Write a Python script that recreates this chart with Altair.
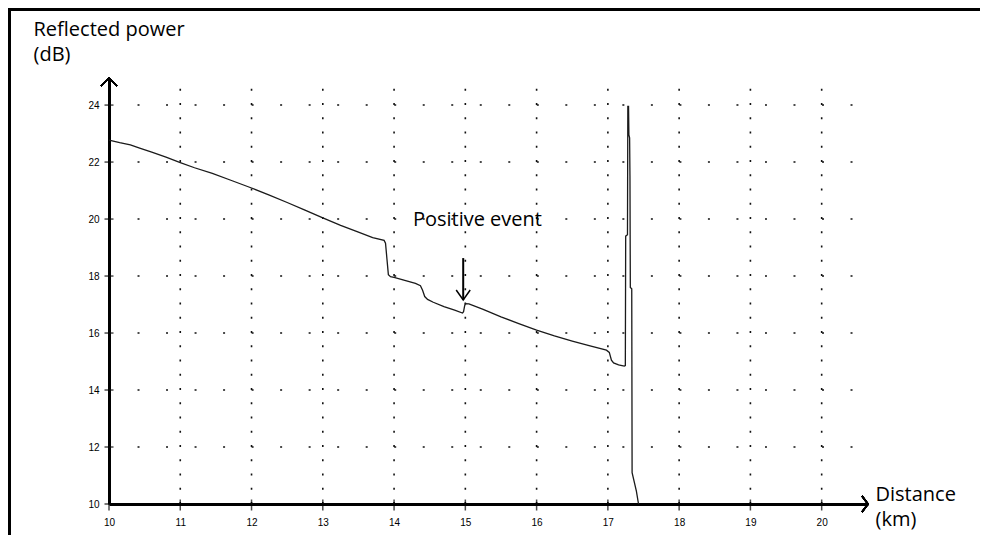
import altair as alt
import pandas as pd

# ---- data ----
dist_km = [10.00, 10.15, 10.30, 10.43, 10.60, 10.80, 11.00, 11.20, 11.45, 11.70,
           12.00, 12.25, 12.50, 12.75, 13.00, 13.25, 13.50, 13.70, 13.86, 13.88,
           13.90, 13.92, 13.95, 14.00, 14.15, 14.30, 14.37, 14.40, 14.43, 14.47,
           14.55, 14.70, 14.85, 14.96, 14.975, 14.99, 15.00, 15.05, 15.25, 15.50,
           15.75, 16.00, 16.25, 16.50, 16.75, 16.98, 17.02, 17.05, 17.08, 17.15,
           17.23, 17.245, 17.25, 17.275, 17.28, 17.29, 17.295, 17.305, 17.31, 17.315,
           17.335, 17.34, 17.40, 17.43]
power_db = [22.77, 22.68, 22.60, 22.49, 22.35, 22.17, 21.98, 21.80, 21.60, 21.37,
            21.09, 20.84, 20.58, 20.31, 20.04, 19.78, 19.54, 19.35, 19.25, 19.15,
            18.60, 18.05, 17.98, 17.95, 17.85, 17.74, 17.66, 17.50, 17.28, 17.18,
            17.08, 16.93, 16.80, 16.70, 16.75, 16.95, 17.03, 17.02, 16.83, 16.57,
            16.33, 16.10, 15.90, 15.72, 15.55, 15.40, 15.32, 15.05, 14.95, 14.88,
            14.84, 14.86, 19.40, 19.45, 23.95, 23.95, 22.95, 22.85, 21.50, 17.60,
            17.55, 11.10, 10.45, 10.00]

x_ticks = [10, 11, 12, 13, 14, 15, 16, 17, 18, 19, 20]
y_ticks = [10, 12, 14, 16, 18, 20, 22, 24]
x_grid = [11, 12, 13, 14, 15, 16, 17, 18, 19, 20]
y_grid = [12, 14, 16, 18, 20, 22, 24]
x_grid_end = 20.45
y_grid_end = 24.6

x_domain = [10, 20.65]
y_domain = [10, 24.95]

event_label = ["Positive event"]
event_label_x = [14.264]
event_label_y = [19.75]
event_x = [14.97]
event_top = [18.63]
event_tip = [17.16]

FONT = "Open Sans"
TICKFONT = "Liberation Sans"

trace = pd.DataFrame({"d": dist_km, "p": power_db, "idx": list(range(len(dist_km)))})
xt = pd.DataFrame({"d": x_ticks})
yt = pd.DataFrame({"p": y_ticks})
xg = pd.DataFrame({"d": x_grid})
yg = pd.DataFrame({"p": y_grid})
ev = pd.DataFrame({"d": event_x, "p": event_top, "tip": event_tip})
lab = pd.DataFrame({"d": event_label_x, "p": event_label_y, "t": event_label})

xs = alt.Scale(domain=x_domain, nice=False, zero=False)
ys = alt.Scale(domain=y_domain, nice=False, zero=False)

x_axis = alt.Axis(
    values=x_ticks, grid=False, domain=True, domainWidth=3, domainColor="#000",
    ticks=False, tickSize=0,
    labelFont=TICKFONT, labelFontSize=10, labelColor="#000", labelPadding=13, labelFlush=False,
    title=["Distance", "(km)"], titleX=766, titleY=-4, titleAlign="left",
    titleBaseline="alphabetic", titleFont=FONT, titleFontSize=20, titleFontWeight="normal",
    titleLineHeight=25, titleColor="#000", format="d",
)
y_axis = alt.Axis(
    values=y_ticks, grid=False, domain=True, domainWidth=3, domainColor="#000",
    ticks=False, tickSize=0,
    labelFont=TICKFONT, labelFontSize=10, labelColor="#000", labelPadding=10, labelFlush=False,
    title=["Reflected power", "(dB)"], titleAngle=0, titleX=-76, titleY=-43, titleAlign="left",
    titleBaseline="alphabetic", titleFont=FONT, titleFontSize=20, titleFontWeight="normal",
    titleLineHeight=25, titleColor="#000", format="d",
)


def X(field):
    return alt.X(field, type="quantitative", scale=xs, axis=x_axis)


def Y(field):
    return alt.Y(field, type="quantitative", scale=ys, axis=y_axis)


def XD(v):
    return alt.XDatum(v, scale=xs, axis=x_axis)


def YD(v):
    return alt.YDatum(v, scale=ys, axis=y_axis)


# dotted grid, drawn from the axes outward so the dots line up with the scale
vgrid = alt.Chart(xg).mark_rule(color="#111", strokeWidth=1.6, strokeDash=[2, 12.25]).encode(
    x=X("d"), y=YD(y_domain[0]), y2=alt.Y2Datum(y_grid_end)
)
hgrid = alt.Chart(yg).mark_rule(color="#111", strokeWidth=1.6, strokeDash=[2, 26.52]).encode(
    y=Y("p"), x=XD(x_domain[0]), x2=alt.X2Datum(x_grid_end)
)

line = alt.Chart(trace).mark_line(color="#1a1a1a", strokeWidth=1.3).encode(
    x=X("d"), y=Y("p"), order=alt.Order("idx:Q"),
)

xticks_l = alt.Chart(xt).mark_tick(orient="vertical", size=11, thickness=1.5, color="#000", yOffset=1).encode(
    x=X("d"), y=YD(10)
)
yticks_l = alt.Chart(yt).mark_tick(orient="horizontal", size=9, thickness=1.5, color="#000").encode(
    y=Y("p"), x=XD(10)
)

x_arrow = alt.Chart(xt).mark_point(shape="M -0.75 -1 L 0 0 L -0.75 1", filled=False, size=256,
                                   strokeWidth=1.5, color="#000", opacity=1).encode(
    x=XD(x_domain[1]), y=YD(y_domain[0])
)
y_arrow = alt.Chart(xt).mark_point(shape="M -1 1 L 0 0 L 1 1", filled=False, size=256,
                                   strokeWidth=1.5, color="#000", opacity=1).encode(
    x=XD(x_domain[0]), y=YD(y_domain[1])
)

ev_rule = alt.Chart(ev).mark_rule(color="#000", strokeWidth=2).encode(
    x=X("d"), y=Y("p"), y2="tip:Q"
)
ev_head = alt.Chart(ev).mark_point(shape="M -0.7 -1 L 0 0 L 0.7 -1", filled=False, size=400,
                                   strokeWidth=1.5, color="#000", opacity=1).encode(
    x=X("d"), y=Y("tip")
)
ev_text = alt.Chart(lab).mark_text(align="left", baseline="alphabetic", font=FONT, fontSize=20,
                                   color="#000").encode(x=X("d"), y=Y("p"), text="t:N")

frame_top = alt.Chart(xt).mark_rule(color="#000", strokeWidth=3).encode(
    x=alt.value(-101), x2=alt.value(871), y=alt.value(-68.5)
)
frame_left = alt.Chart(xt).mark_rule(color="#000", strokeWidth=3).encode(
    x=alt.value(-99.5), y=alt.value(-70), y2=alt.value(460)
)

chart = alt.layer(
    vgrid, hgrid, line, xticks_l, yticks_l, x_arrow, y_arrow, ev_rule, ev_head, ev_text,
    frame_top, frame_left
).properties(
    width=759, height=426,
    autosize=alt.AutoSizeParams(type="none"),
    padding={"left": 101, "top": 70, "right": 112, "bottom": 31},
).configure(background="white").configure_view(strokeOpacity=0)

chart.save("out.html", embed_options={"renderer": "svg", "actions": False})
